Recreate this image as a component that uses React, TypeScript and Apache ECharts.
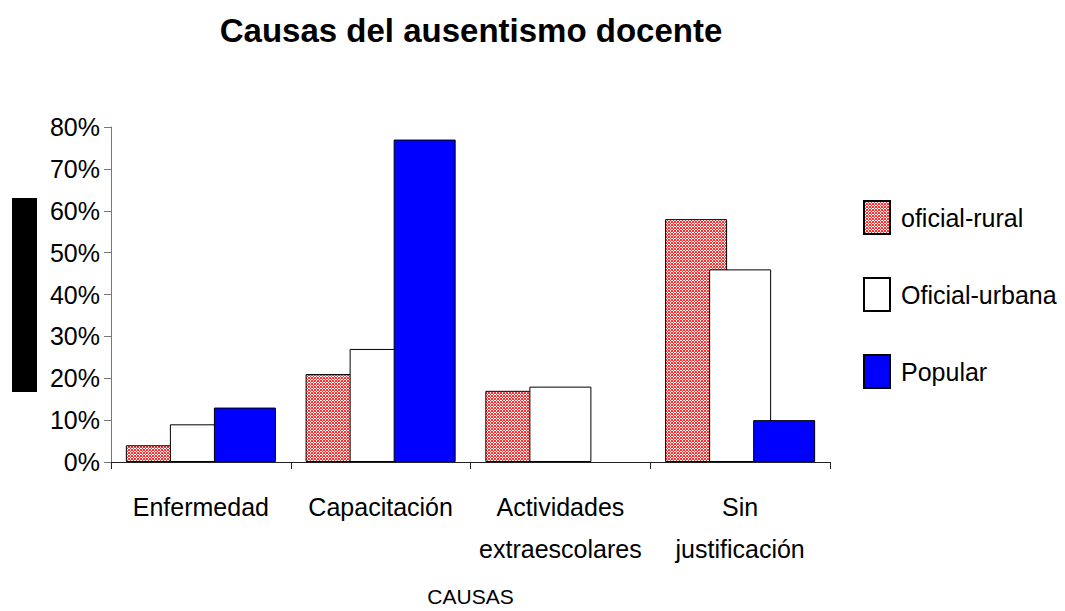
import React, { useEffect, useRef } from "react";
import * as echarts from "echarts";

const categories = ["Enfermedad", "Capacitación", "Actividades\nextraescolares", "Sin\njustificación"];
const oficialRural = [4, 21, 17, 58];
const oficialUrbana = [9, 27, 18, 46];
const popular = [13, 77, 0, 10];
const seriesNames = ["oficial-rural", "Oficial-urbana", "Popular"];
const yTicks = [0, 10, 20, 30, 40, 50, 60, 70, 80];

const FONT = "'Liberation Sans', Arial, sans-serif";

function makePattern(): HTMLCanvasElement {
  const c = document.createElement("canvas");
  c.width = 3;
  c.height = 3;
  const ctx = c.getContext("2d")!;
  ctx.fillStyle = "#ffffff";
  ctx.fillRect(0, 0, 3, 3);
  ctx.fillStyle = "#ff3030";
  ctx.fillRect(0, 0, 1, 1);
  ctx.fillRect(1, 1, 1, 1);
  ctx.fillRect(2, 0, 1, 1);
  ctx.fillRect(0, 2, 1, 1);
  ctx.fillRect(2, 2, 1, 1);
  ctx.fillStyle = "#ffb0b0";
  ctx.fillRect(1, 0, 1, 1);
  return c;
}

const hideZero = (arr: number[]) => arr.map((v) => (v === 0 ? null : v));

export default function App() {
  const ref = useRef<HTMLDivElement>(null);
  useEffect(() => {
    const chart = echarts.init(ref.current!, undefined, { renderer: "svg" });
    const pattern = { image: makePattern(), repeat: "repeat" } as any;
    const common = {
      type: "bar",
      barWidth: 62,
      barGap: "-29%",
      itemStyle: { borderColor: "#000", borderWidth: 1 },
    };
    chart.setOption({
      animation: false,
      backgroundColor: "#fff",
      title: {
        text: "Causas del ausentismo docente",
        left: 471,
        top: 14,
        padding: 0,
        textAlign: "center",
        textStyle: { fontFamily: FONT, fontSize: 33, fontWeight: "bold", color: "#000" },
      },
      legend: {
        orient: "vertical",
        left: 863,
        top: 200,
        padding: 0,
        itemWidth: 26,
        itemHeight: 33,
        itemGap: 42,
        icon: "rect",
        textStyle: { fontFamily: FONT, fontSize: 25, color: "#000", padding: [0, 0, 3, 6] },
        data: seriesNames,
      },
      grid: { left: 111, right: 235, top: 127, bottom: 149, containLabel: false, outerBoundsMode: "none" },
      xAxis: {
        type: "category",
        data: categories,
        name: "CAUSAS",
        nameLocation: "middle",
        nameGap: 124,
        nameTextStyle: { fontFamily: FONT, fontSize: 21, color: "#000" },
        axisLine: { lineStyle: { color: "#222", width: 1 } },
        axisTick: { show: true, length: 7, lineStyle: { color: "#222" } },
        axisLabel: {
          fontFamily: FONT,
          fontSize: 25,
          color: "#000",
          margin: 24,
          lineHeight: 42,
          interval: 0,
        },
      },
      yAxis: {
        type: "value",
        min: 0,
        max: 80,
        interval: 10,
        axisLine: { show: true, lineStyle: { color: "#777", width: 1 } },
        axisTick: { show: true, length: 7, lineStyle: { color: "#777" } },
        splitLine: { show: false },
        axisLabel: {
          fontFamily: FONT,
          fontSize: 25,
          color: "#000",
          margin: 11,
          formatter: (v: number) => (yTicks.includes(v) ? v + "%" : ""),
        },
      },
      graphic: [
        { type: "rect", left: 12, top: 198, shape: { width: 25, height: 194 }, style: { fill: "#000" } },
      ],
      series: [
        { ...common, name: seriesNames[0], data: hideZero(oficialRural), itemStyle: { ...common.itemStyle, color: pattern } },
        { ...common, name: seriesNames[1], data: hideZero(oficialUrbana), itemStyle: { ...common.itemStyle, color: "#fff" } },
        { ...common, name: seriesNames[2], data: hideZero(popular), itemStyle: { ...common.itemStyle, color: "#0000ff" } },
      ],
    });
    return () => chart.dispose();
  }, []);
  return <div ref={ref} style={{ width: 1065, height: 611, position: "absolute", left: 0, top: 0 }} />;
}
